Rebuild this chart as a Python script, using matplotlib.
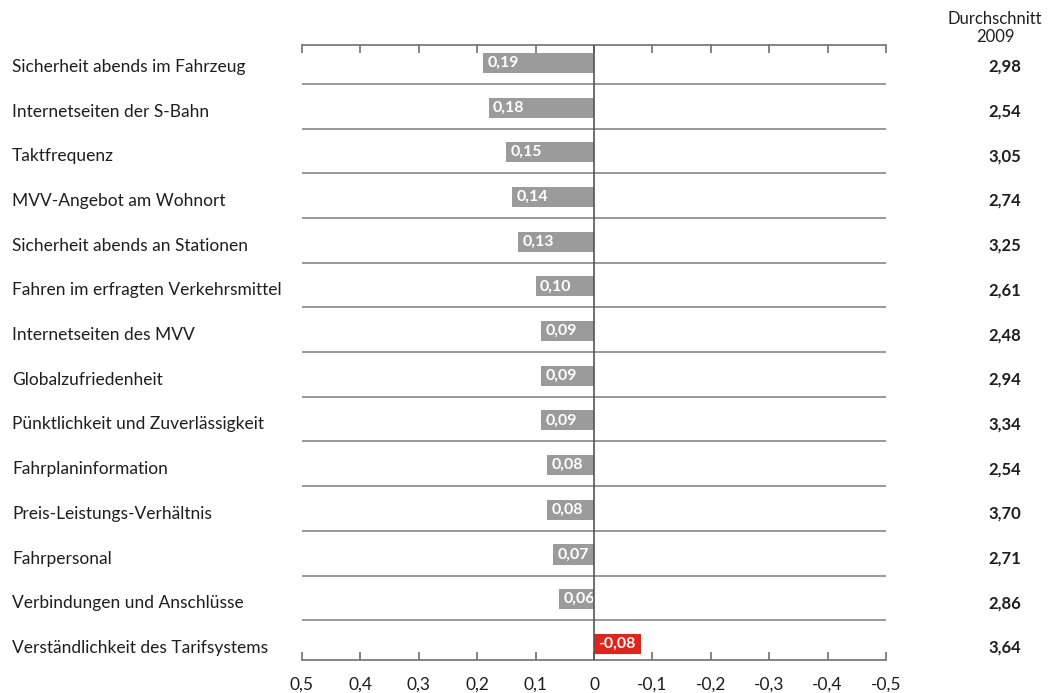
import matplotlib.pyplot as plt
import numpy as np

labels = ['Sicherheit abends im Fahrzeug', 'Internetseiten der S-Bahn', 'Taktfrequenz',
          'MVV-Angebot am Wohnort', 'Sicherheit abends an Stationen',
          'Fahren im erfragten Verkehrsmittel', 'Internetseiten des MVV', 'Globalzufriedenheit',
          'Pünktlichkeit und Zuverlässigkeit', 'Fahrplaninformation',
          'Preis-Leistungs-Verhältnis', 'Fahrpersonal', 'Verbindungen und Anschlüsse',
          'Verständlichkeit des Tarifsystems']
changes = [0.19, 0.18, 0.15, 0.14, 0.13, 0.10, 0.09, 0.09, 0.09, 0.08, 0.08, 0.07, 0.06, -0.08]
avg2009 = ['2,98', '2,54', '3,05', '2,74', '3,25', '2,61', '2,48', '2,94', '3,34', '2,54',
           '3,70', '2,71', '2,86', '3,64']
xticks = [0.5, 0.4, 0.3, 0.2, 0.1, 0, -0.1, -0.2, -0.3, -0.4, -0.5]

plt.rcParams['font.family'] = ['Lato', 'DejaVu Sans']
gray = '#9b9b9b'
red = '#e2231a'
line = '#707070'
ink = '#1e1e1e'

fig = plt.figure(figsize=(10.56, 6.93), dpi=100)
ax = fig.add_axes([302/1056, 1-660/693, 584/1056, 615/693])

y = np.arange(len(labels))
colors = [gray if v > 0 else red for v in changes]
ax.barh(y, changes, height=0.45, color=colors, zorder=2)

for i, v in enumerate(changes):
    txt = ('%.2f' % v).replace('.', ',')
    ax.annotate(txt, (max(v, 0), i), xytext=(3, 0), textcoords='offset points',
                ha='left', va='center', color='white', fontsize=11.5,
                fontweight='bold', zorder=3)

# trennlinien zwischen den zeilen
for i in range(len(labels) - 1):
    ax.axhline(i + 0.47, color='#888888', lw=1.2, zorder=1)
ax.axvline(0, color='#555555', lw=1.2, zorder=4)

ax.set_xlim(0.5, -0.5)
ax.set_ylim(len(labels) - 1 + 0.36, -0.40)
ax.set_xticks(xticks)
ax.set_xticklabels([('%g' % t).replace('.', ',') for t in xticks], fontsize=12.5, color=ink)
ax.set_yticks([])
ax.tick_params(axis='x', direction='in', length=6, width=1.2, color=line,
               top=True, labeltop=False, pad=12)
for s in ['left', 'right']:
    ax.spines[s].set_visible(False)
for s in ['top', 'bottom']:
    ax.spines[s].set_color(line)
    ax.spines[s].set_linewidth(1.2)

for i, lab in enumerate(labels):
    yp = ax.transData.transform((0, i))[1]
    fig.text(12/1056, (yp - 4)/693, lab, ha='left', va='center', fontsize=12.5, color=ink)
    fig.text(1021/1056, (yp - 4)/693, avg2009[i], ha='right', va='center',
             fontsize=12, fontweight='bold', color=ink)

fig.text(995/1056, 1-28/693, 'Durchschnitt\n2009', ha='center', va='center',
         fontsize=12, linespacing=1.15, color=ink)

fig.savefig('out.png', dpi=100)
